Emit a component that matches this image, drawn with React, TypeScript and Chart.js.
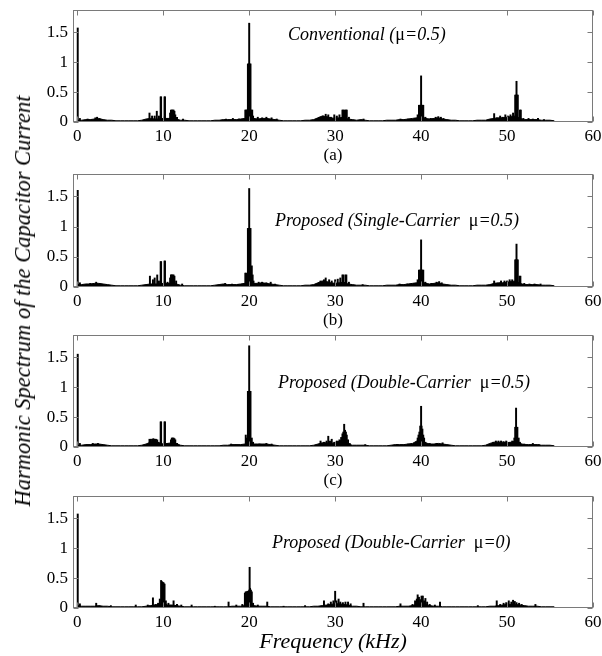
import React, { useEffect, useRef } from 'react';
import { Chart, registerables } from 'chart.js';
Chart.register(...registerables);

// ---------- data ----------
const X_TICKS = [0, 10, 20, 30, 40, 50, 60];
const Y_TICKS = [0, 0.5, 1, 1.5];
const Y_TITLE = 'Harmonic Spectrum of the Capacitor Current';
const X_TITLE = 'Frequency (kHz)';
const SUB_LABELS = ['(a)', '(b)', '(c)', X_TITLE];
const TITLES = [
  'Conventional (μ=0.5)',
  'Proposed (Single-Carrier  μ=0.5)',
  'Proposed (Double-Carrier  μ=0.5)',
  'Proposed (Double-Carrier  μ=0)',
];

// noise-floor frequencies (kHz), 0 .. 55.5 every 0.5 kHz
const FLOOR_FREQ = Array.from({ length: 112 }, (_, i) => i * 0.5);

const FLOOR_A = [
  0.03, 0.03, 0.04, 0.04, 0.05, 0.06, 0.04, 0.03, 0.03, 0.02,
  0.02, 0.02, 0.02, 0.02, 0.02, 0.03, 0.05, 0.06, 0.05, 0.05,
  0.06, 0.06, 0.06, 0.05, 0.03, 0.03, 0.02, 0.02, 0.02, 0.02,
  0.02, 0.02, 0.03, 0.03, 0.04, 0.04, 0.04, 0.04, 0.05, 0.06,
  0.08, 0.06, 0.05, 0.06, 0.06, 0.05, 0.04, 0.03, 0.02, 0.02,
  0.02, 0.02, 0.02, 0.03, 0.03, 0.04, 0.07, 0.1, 0.09, 0.07,
  0.06, 0.07, 0.08, 0.05, 0.04, 0.03, 0.04, 0.03, 0.02, 0.02,
  0.02, 0.02, 0.03, 0.03, 0.03, 0.04, 0.04, 0.05, 0.06, 0.07,
  0.1, 0.06, 0.05, 0.06, 0.07, 0.05, 0.04, 0.03, 0.03, 0.02,
  0.02, 0.02, 0.02, 0.03, 0.03, 0.03, 0.05, 0.06, 0.07, 0.07,
  0.08, 0.09, 0.1, 0.06, 0.04, 0.04, 0.04, 0.04, 0.03, 0.03,
  0.03, 0.02,
];
const FLOOR_B = [
  0.04, 0.04, 0.05, 0.05, 0.06, 0.06, 0.05, 0.04, 0.03, 0.02,
  0.02, 0.02, 0.02, 0.02, 0.02, 0.03, 0.04, 0.05, 0.05, 0.05,
  0.06, 0.06, 0.06, 0.05, 0.03, 0.02, 0.02, 0.02, 0.02, 0.02,
  0.02, 0.02, 0.03, 0.04, 0.05, 0.04, 0.04, 0.04, 0.05, 0.06,
  0.08, 0.06, 0.06, 0.07, 0.06, 0.05, 0.04, 0.03, 0.02, 0.02,
  0.02, 0.02, 0.02, 0.03, 0.03, 0.04, 0.07, 0.1, 0.09, 0.07,
  0.06, 0.07, 0.08, 0.05, 0.04, 0.03, 0.03, 0.03, 0.02, 0.02,
  0.02, 0.02, 0.03, 0.03, 0.03, 0.04, 0.04, 0.05, 0.06, 0.07,
  0.1, 0.06, 0.05, 0.06, 0.07, 0.05, 0.04, 0.03, 0.03, 0.02,
  0.02, 0.02, 0.02, 0.03, 0.03, 0.03, 0.04, 0.06, 0.07, 0.07,
  0.08, 0.09, 0.1, 0.06, 0.04, 0.04, 0.04, 0.04, 0.03, 0.03,
  0.03, 0.02,
];
const FLOOR_C = [
  0.03, 0.03, 0.04, 0.04, 0.05, 0.05, 0.04, 0.03, 0.02, 0.02,
  0.02, 0.02, 0.02, 0.02, 0.02, 0.03, 0.05, 0.08, 0.09, 0.07,
  0.05, 0.06, 0.07, 0.06, 0.03, 0.02, 0.02, 0.02, 0.02, 0.02,
  0.02, 0.02, 0.02, 0.02, 0.03, 0.03, 0.04, 0.04, 0.04, 0.05,
  0.07, 0.05, 0.05, 0.05, 0.05, 0.04, 0.03, 0.02, 0.02, 0.02,
  0.02, 0.02, 0.02, 0.02, 0.02, 0.03, 0.05, 0.07, 0.07, 0.06,
  0.07, 0.1, 0.12, 0.05, 0.03, 0.03, 0.03, 0.03, 0.02, 0.02,
  0.02, 0.02, 0.02, 0.03, 0.04, 0.04, 0.04, 0.05, 0.06, 0.1,
  0.14, 0.07, 0.05, 0.05, 0.06, 0.05, 0.04, 0.03, 0.02, 0.02,
  0.02, 0.02, 0.02, 0.02, 0.02, 0.03, 0.06, 0.08, 0.08, 0.08,
  0.07, 0.08, 0.1, 0.06, 0.04, 0.04, 0.04, 0.04, 0.03, 0.03,
  0.03, 0.02,
];
const FLOOR_D = [
  0.04, 0.03, 0.03, 0.03, 0.03, 0.04, 0.03, 0.03, 0.02, 0.02,
  0.02, 0.02, 0.02, 0.02, 0.02, 0.02, 0.03, 0.04, 0.05, 0.06,
  0.08, 0.05, 0.05, 0.04, 0.03, 0.02, 0.02, 0.02, 0.02, 0.02,
  0.02, 0.02, 0.02, 0.02, 0.02, 0.02, 0.03, 0.03, 0.03, 0.04,
  0.06, 0.04, 0.03, 0.03, 0.03, 0.02, 0.02, 0.02, 0.02, 0.02,
  0.02, 0.02, 0.02, 0.02, 0.02, 0.03, 0.03, 0.04, 0.05, 0.06,
  0.07, 0.07, 0.06, 0.05, 0.03, 0.03, 0.02, 0.02, 0.02, 0.02,
  0.02, 0.02, 0.02, 0.02, 0.02, 0.03, 0.03, 0.03, 0.04, 0.06,
  0.07, 0.06, 0.04, 0.03, 0.03, 0.02, 0.02, 0.02, 0.02, 0.02,
  0.02, 0.02, 0.02, 0.02, 0.02, 0.02, 0.03, 0.03, 0.04, 0.05,
  0.06, 0.06, 0.06, 0.05, 0.04, 0.03, 0.03, 0.03, 0.02, 0.02,
  0.02, 0.02,
];

// harmonic lines: [frequency kHz, amplitude]
const SPIKES_A: [number, number][] = [
  [0.05, 1.57], [0.3, 0.06], [1.2, 0.05], [2.1, 0.07], [2.3, 0.08], [2.6, 0.05],
  [8.4, 0.15], [8.7, 0.1], [9.0, 0.1], [9.25, 0.18], [9.5, 0.1], [9.7, 0.42], [9.75, 0.42], [10.15, 0.42], [10.2, 0.42], [10.5, 0.06],
  [10.8, 0.15], [10.9, 0.2], [11.0, 0.2], [11.1, 0.2], [11.2, 0.2], [11.3, 0.18], [11.4, 0.12], [11.6, 0.08],
  [12.3, 0.05], [17.3, 0.05], [18.1, 0.06], [18.8, 0.05],
  [19.55, 0.2], [19.65, 0.2], [19.75, 0.2], [19.85, 0.97], [19.95, 0.97], [20.0, 1.65], [20.05, 0.97], [20.15, 0.97], [20.25, 0.2], [20.35, 0.2], [20.45, 0.1],
  [21.0, 0.08], [21.5, 0.07], [22.0, 0.08], [22.6, 0.07], [23.2, 0.05],
  [28.2, 0.08], [28.6, 0.1], [28.9, 0.13], [29.2, 0.12], [29.5, 0.08], [29.9, 0.12], [30.2, 0.1], [30.5, 0.12], [30.85, 0.2], [30.95, 0.2], [31.1, 0.2], [31.25, 0.2], [31.35, 0.2], [31.6, 0.08], [33.3, 0.05],
  [37.6, 0.05], [38.5, 0.05], [39.3, 0.06], [39.6, 0.12], [39.75, 0.28], [39.85, 0.28], [39.95, 0.28], [40.0, 0.77], [40.05, 0.28], [40.15, 0.28], [40.25, 0.28], [40.5, 0.08], [41.1, 0.06], [41.7, 0.08], [42.0, 0.09], [42.3, 0.08], [42.6, 0.06],
  [48.5, 0.14], [48.8, 0.07], [49.2, 0.1], [49.5, 0.08], [49.8, 0.12], [50.1, 0.1], [50.4, 0.12], [50.7, 0.15], [50.95, 0.45], [51.05, 0.45], [51.1, 0.68], [51.15, 0.45], [51.25, 0.45], [51.5, 0.2], [51.6, 0.2], [51.9, 0.06], [52.5, 0.06], [53.0, 0.05], [53.6, 0.06], [54.3, 0.04],
];
const SPIKES_B: [number, number][] = [
  [0.05, 1.6], [0.3, 0.07], [1.5, 0.06], [2.2, 0.08],
  [8.45, 0.18], [8.8, 0.12], [9.0, 0.15], [9.3, 0.2], [9.5, 0.1], [9.7, 0.42], [9.75, 0.42], [10.15, 0.43], [10.2, 0.43], [10.5, 0.08],
  [10.8, 0.15], [10.9, 0.2], [11.0, 0.2], [11.1, 0.2], [11.2, 0.2], [11.3, 0.18], [11.5, 0.1],
  [12.2, 0.05], [17.2, 0.06], [18.0, 0.05], [18.7, 0.04],
  [19.55, 0.23], [19.65, 0.23], [19.75, 0.2], [19.85, 0.97], [19.95, 0.97], [20.0, 1.63], [20.05, 0.97], [20.15, 0.97], [20.3, 0.35], [20.4, 0.2], [20.5, 0.1],
  [21.1, 0.08], [21.5, 0.08], [22.0, 0.07], [22.5, 0.08], [23.0, 0.05],
  [28.3, 0.1], [28.7, 0.12], [28.9, 0.15], [29.3, 0.12], [29.6, 0.1], [30.0, 0.12], [30.3, 0.13], [30.6, 0.15], [30.85, 0.2], [30.95, 0.2], [31.2, 0.2], [31.3, 0.2], [31.6, 0.08], [33.2, 0.04],
  [37.5, 0.05], [38.4, 0.05], [39.2, 0.06], [39.6, 0.12], [39.75, 0.28], [39.85, 0.28], [39.95, 0.28], [40.0, 0.78], [40.05, 0.28], [40.15, 0.28], [40.25, 0.28], [40.5, 0.08], [41.2, 0.06], [41.8, 0.08], [42.1, 0.09], [42.4, 0.07],
  [48.5, 0.1], [48.9, 0.06], [49.3, 0.1], [49.7, 0.1], [50.0, 0.1], [50.3, 0.12], [50.6, 0.12], [50.95, 0.45], [51.05, 0.45], [51.1, 0.71], [51.15, 0.45], [51.25, 0.45], [51.45, 0.18], [51.55, 0.18], [52.0, 0.06], [52.6, 0.05], [53.2, 0.05], [53.9, 0.05],
];
const SPIKES_C: [number, number][] = [
  [0.05, 1.55], [0.3, 0.06], [1.8, 0.06], [2.4, 0.06],
  [8.4, 0.13], [8.55, 0.13], [8.7, 0.13], [8.85, 0.14], [9.0, 0.13], [9.15, 0.13], [9.3, 0.12], [9.45, 0.08], [9.7, 0.42], [9.75, 0.42], [10.15, 0.42], [10.2, 0.42], [10.5, 0.06],
  [10.9, 0.12], [11.0, 0.15], [11.1, 0.15], [11.2, 0.15], [11.3, 0.14], [11.4, 0.12], [11.6, 0.06],
  [17.9, 0.05], [18.5, 0.04],
  [19.6, 0.2], [19.7, 0.15], [19.85, 0.93], [19.95, 0.93], [20.0, 1.69], [20.05, 0.93], [20.15, 0.93], [20.3, 0.15], [20.45, 0.08],
  [21.2, 0.05], [22.0, 0.06], [22.6, 0.05],
  [28.3, 0.1], [28.7, 0.08], [29.0, 0.1], [29.2, 0.18], [29.4, 0.1], [29.6, 0.13], [29.9, 0.08], [30.2, 0.1], [30.5, 0.12], [30.7, 0.16], [30.85, 0.22], [30.95, 0.25], [31.05, 0.38], [31.15, 0.28], [31.25, 0.25], [31.35, 0.2], [31.5, 0.12], [31.7, 0.06], [33.5, 0.04],
  [37.2, 0.04], [38.5, 0.05], [39.4, 0.08], [39.6, 0.15], [39.7, 0.2], [39.8, 0.25], [39.9, 0.35], [40.0, 0.68], [40.05, 0.35], [40.15, 0.3], [40.25, 0.2], [40.35, 0.15], [40.5, 0.08], [41.0, 0.06], [41.8, 0.06], [42.5, 0.07],
  [48.4, 0.08], [48.7, 0.1], [49.0, 0.1], [49.3, 0.1], [49.6, 0.09], [49.9, 0.1], [50.3, 0.08], [50.6, 0.1], [50.85, 0.15], [50.95, 0.33], [51.05, 0.65], [51.1, 0.33], [51.2, 0.33], [51.35, 0.15], [51.5, 0.08], [52.0, 0.05], [53.0, 0.06], [53.7, 0.04],
];
const SPIKES_D: [number, number][] = [
  [0.05, 1.57], [0.3, 0.07], [2.2, 0.08], [3.9, 0.04], [6.8, 0.05], [8.2, 0.05], [8.8, 0.17], [9.1, 0.06], [9.4, 0.08],
  [9.6, 0.15], [9.75, 0.46], [9.85, 0.44], [9.95, 0.43], [10.05, 0.42], [10.15, 0.4], [10.3, 0.12], [10.6, 0.08], [11.2, 0.12], [11.6, 0.06], [12.1, 0.05], [13.3, 0.05],
  [16.0, 0.03], [17.6, 0.1], [18.5, 0.05], [19.2, 0.06],
  [19.5, 0.25], [19.6, 0.27], [19.7, 0.27], [19.8, 0.28], [19.9, 0.28], [20.0, 0.3], [20.05, 0.68], [20.1, 0.33], [20.2, 0.3], [20.3, 0.27], [20.45, 0.08],
  [21.0, 0.05], [22.1, 0.1], [24.0, 0.03], [26.5, 0.04],
  [28.7, 0.12], [29.2, 0.07], [29.5, 0.1], [29.8, 0.12], [30.0, 0.28], [30.15, 0.12], [30.4, 0.15], [30.6, 0.1], [30.9, 0.09], [31.2, 0.1], [31.5, 0.1], [31.8, 0.07], [33.3, 0.08],
  [37.6, 0.07], [39.0, 0.06], [39.3, 0.12], [39.5, 0.15], [39.6, 0.22], [39.75, 0.18], [39.9, 0.14], [40.05, 0.2], [40.2, 0.2], [40.35, 0.12], [40.5, 0.16], [40.7, 0.1], [41.0, 0.06], [41.6, 0.05], [42.2, 0.1],
  [46.6, 0.04], [48.8, 0.12], [49.2, 0.06], [49.6, 0.08], [49.9, 0.09], [50.2, 0.12], [50.5, 0.1], [50.7, 0.13], [50.9, 0.11], [51.1, 0.09], [51.4, 0.08], [51.7, 0.06], [53.3, 0.06],
];

const FLOORS = [FLOOR_A, FLOOR_B, FLOOR_C, FLOOR_D];
const SPIKES = [SPIKES_A, SPIKES_B, SPIKES_C, SPIKES_D];

// ---------- layout / style ----------
const SERIF = '"Liberation Serif", "Times New Roman", serif';
const LAYOUT = [
  { top: 0, height: 168, axisH: 46, titleX: 24.5, titleY: 1.45 },
  { top: 164, height: 169, axisH: 46, titleX: 23.0, titleY: 1.09 },
  { top: 325, height: 168, axisH: 46, titleX: 23.35, titleY: 1.07 },
  { top: 486, height: 170, axisH: 48, titleX: 22.65, titleY: 1.08 },
];

const framePlugin = {
  id: 'frame',
  afterDraw(chart: any) {
    const { ctx, chartArea, scales } = chart;
    const x = scales.x, y = scales.y;
    const l = Math.round(chartArea.left) + 0.5;
    const r = Math.round(chartArea.right) - 0.5;
    const t = Math.round(chartArea.top) + 0.5;
    const b = Math.round(chartArea.bottom) - 0.5;
    ctx.save();
    ctx.strokeStyle = '#7a7a7a';
    ctx.lineWidth = 1;
    ctx.strokeRect(l, t, r - l, b - t);
    ctx.beginPath();
    const tl = 5;
    X_TICKS.forEach((v) => {
      const px = Math.round(x.getPixelForValue(v)) + 0.5;
      ctx.moveTo(px, b); ctx.lineTo(px, b - tl);
      ctx.moveTo(px, t); ctx.lineTo(px, t + tl);
    });
    Y_TICKS.forEach((v) => {
      const py = Math.round(y.getPixelForValue(v)) + 0.5;
      ctx.moveTo(l, py); ctx.lineTo(l + tl, py);
      ctx.moveTo(r, py); ctx.lineTo(r - tl, py);
    });
    ctx.stroke();
    ctx.restore();
  },
};

function makeTitlePlugin(text: string, xv: number, yv: number) {
  return {
    id: 'panelTitle',
    afterDraw(chart: any) {
      const { ctx, scales } = chart;
      let px = scales.x.getPixelForValue(xv);
      const py = scales.y.getPixelForValue(yv);
      ctx.save();
      ctx.fillStyle = '#000';
      ctx.textBaseline = 'middle';
      ctx.textAlign = 'left';
      const parts = text.split('μ');
      parts.forEach((part, i) => {
        if (i > 0) {
          ctx.font = `18px ${SERIF}`;
          ctx.fillText('μ', px, py);
          px += ctx.measureText('μ').width;
        }
        ctx.font = `italic 18px ${SERIF}`;
        ctx.fillText(part, px, py);
        px += ctx.measureText(part).width;
      });
      ctx.restore();
    },
  };
}

function Panel({ idx }: { idx: number }) {
  const ref = useRef<HTMLCanvasElement>(null);
  const L = LAYOUT[idx];
  useEffect(() => {
    const isLast = idx === 3;
    const chart = new Chart(ref.current as HTMLCanvasElement, {
      type: 'bar',
      data: {
        datasets: [
          {
            type: 'line',
            data: FLOOR_FREQ.map((f, i) => ({ x: f, y: FLOORS[idx][i] })),
            borderColor: '#000',
            backgroundColor: '#000',
            borderWidth: 1,
            pointRadius: 0,
            fill: 'origin',
            tension: 0,
            order: 2,
          } as any,
          {
            type: 'bar',
            data: SPIKES[idx].map(([f, v]) => ({ x: f, y: v })),
            backgroundColor: '#000',
            borderWidth: 0,
            barThickness: 1.3,
            order: 1,
          } as any,
        ],
      },
      options: {
        animation: false,
        responsive: false,
        maintainAspectRatio: false,
        layout: { padding: { top: 10, right: 9, left: 0, bottom: 0 } },
        plugins: { legend: { display: false }, tooltip: { enabled: false } },
        scales: {
          x: {
            type: 'linear',
            min: -0.5,
            max: 60,
            offset: false,
            grid: { display: false, drawTicks: false, offset: false },
            border: { display: false },
            afterBuildTicks: (s: any) => { s.ticks = X_TICKS.map((v) => ({ value: v })); },
            ticks: {
              font: { family: SERIF, size: 17 },
              color: '#000',
              padding: 4,
              maxRotation: 0,
              autoSkip: false,
              callback: (v: any) => String(v),
            },
            title: {
              display: true,
              text: SUB_LABELS[idx],
              color: '#000',
              font: isLast ? { family: SERIF, size: 22, style: 'italic' } : { family: SERIF, size: 17 },
              padding: { top: 0, bottom: isLast ? 1 : 2 },
            },
            afterFit: (s: any) => { s.height = L.axisH; s.paddingLeft = 0; s.paddingRight = 0; },
          } as any,
          y: {
            type: 'linear',
            min: 0,
            max: 1.87,
            grid: { display: false, drawTicks: false },
            border: { display: false },
            afterBuildTicks: (s: any) => { s.ticks = Y_TICKS.map((v) => ({ value: v })); },
            ticks: {
              font: { family: SERIF, size: 17 },
              color: '#000',
              padding: 5,
              callback: (v: any) => String(v),
            },
            afterFit: (s: any) => { s.width = 73; s.paddingTop = 0; s.paddingBottom = 0; },
          } as any,
        },
      },
      plugins: [framePlugin, makeTitlePlugin(TITLES[idx], L.titleX, L.titleY)],
    });
    return () => chart.destroy();
  }, [idx]);
  return (
    <canvas
      ref={ref}
      width={602}
      height={L.height}
      style={{ position: 'absolute', left: 0, top: L.top, width: 602, height: L.height }}
    />
  );
}

export default function App() {
  return (
    <div style={{ position: 'absolute', left: 0, top: 0, width: 602, height: 656, background: '#fff', overflow: 'hidden' }}>
      {[0, 1, 2, 3].map((i) => <Panel key={i} idx={i} />)}
      <div
        style={{
          position: 'absolute',
          left: 23,
          top: 301,
          transform: 'translate(-50%, -50%) rotate(-90deg)',
          whiteSpace: 'nowrap',
          font: `italic 22.5px ${SERIF}`,
          color: '#000',
        }}
      >
        {Y_TITLE}
      </div>
    </div>
  );
}
